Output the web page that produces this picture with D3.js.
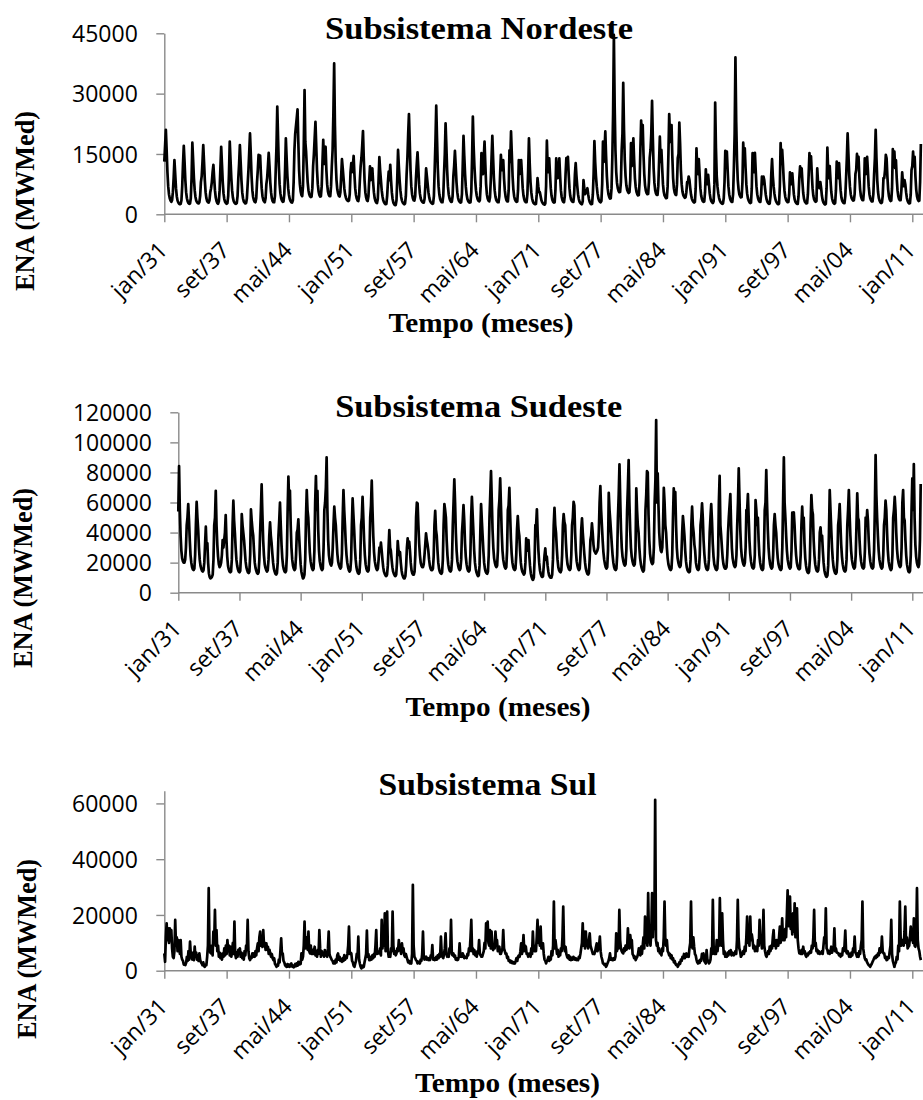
<!DOCTYPE html>
<html>
<head>
<meta charset="utf-8">
<script src="https://cdn.jsdelivr.net/npm/d3@7"></script>
<style>
  body { margin: 0; background: #fff; }
  svg { display: block; }
</style>
</head>
<body>
<svg id="chart" width="923" height="1100"></svg>
<script>
// ENA mensal (mil MWmed), jan/1931 .. dez/2011, uma linha por ano
const startYear = 1931;
const tickStep = 80; // um rótulo a cada 80 meses
const tickLabels = ['jan/31', 'set/37', 'mai/44', 'jan/51', 'set/57', 'mai/64', 'jan/71',
  'set/77', 'mai/84', 'jan/91', 'set/97', 'mai/04', 'jan/11'];

const nordeste = [
  [13.1, 17, 21, 16, 10.5, 7, 5, 4, 3.4, 3.1, 3.5, 5.5],       // 1931
  [9, 13.5, 10, 6.5, 4.5, 3.4, 2.9, 2.6, 2.5, 2.6, 3.5, 7],
  [12.5, 17, 13, 8.5, 5.5, 4, 3.2, 2.8, 2.6, 2.7, 4, 9],
  [17.8, 13.5, 9, 6, 4.3, 3.4, 3, 2.8, 2.7, 3, 4.5, 8],
  [9.5, 13, 17.2, 13, 8.5, 5.5, 4, 3.3, 3, 2.9, 3.5, 5.5],
  [6.5, 8, 10.5, 12.3, 9, 6, 4.2, 3.3, 2.8, 2.6, 3.2, 6],
  [11.5, 16.8, 12.5, 8, 5.2, 3.8, 3.1, 2.8, 2.6, 2.8, 4.5, 10],
  [18.1, 13.5, 9, 6, 4.2, 3.3, 2.9, 2.7, 2.6, 2.8, 4.5, 9],
  [12.5, 17.2, 13, 8.5, 5.5, 4, 3.2, 2.9, 2.7, 2.8, 4, 7.5],
  [11, 15.5, 20.1, 15, 9.5, 6, 4.3, 3.5, 3.1, 3, 4, 8],        // 1940
  [11, 14.8, 12, 14.6, 10, 6.5, 4.5, 3.6, 3.2, 3, 4, 7.5],
  [9, 12, 15.3, 12, 8, 5.5, 4, 3.3, 3, 3, 4.5, 11],
  [17, 26.8, 19, 12, 7.5, 5.2, 4, 3.4, 3.1, 3.2, 5, 11],
  [18.9, 14, 9.5, 6.5, 4.8, 3.8, 3.3, 3, 2.9, 3.5, 8, 16],
  [20, 22, 24, 26.1, 18, 11, 7.5, 5.7, 4.8, 4.5, 7, 17],
  [30.9, 18, 15.5, 11.5, 8, 6, 5, 4.5, 4.3, 4.4, 6.5, 12],
  [15, 19, 23, 17, 11, 7.5, 5.7, 4.8, 4.4, 4.5, 7, 13],
  [18.5, 12.5, 13.5, 16.8, 11, 7.5, 5.7, 4.9, 4.5, 4.5, 7, 12],
  [16, 25, 37.5, 22, 13, 8.5, 6.2, 5.2, 4.6, 4.4, 5.5, 9.5],
  [13.7, 11.5, 9, 6.5, 5, 4.2, 3.7, 3.4, 3.3, 3.4, 5, 10.5],   // 1950
  [12.7, 10.5, 12, 14.5, 10, 6.5, 4.8, 3.9, 3.4, 3.3, 4.5, 8.5],
  [12, 14, 17, 20.7, 14, 8.5, 5.5, 4.2, 3.5, 3.3, 4.5, 8.5],
  [11.9, 8.5, 9.5, 11.4, 8, 5.5, 4, 3.3, 2.9, 2.8, 3.8, 8.5],
  [14.2, 11, 8.5, 6, 4.5, 3.5, 3, 2.7, 2.5, 2.6, 4.5, 8],
  [10.6, 8.5, 12.3, 8.5, 5.5, 3.8, 2.9, 2.5, 2.3, 2.3, 3.5, 9],
  [16, 12, 8.5, 6, 4.3, 3.4, 2.9, 2.7, 2.5, 2.7, 4.5, 10],
  [14, 20, 24.9, 18, 11, 7, 5, 4, 3.5, 3.4, 4.5, 9],
  [12.5, 15.4, 11.5, 7.5, 5.2, 4, 3.4, 3.1, 2.9, 2.9, 3.8, 7],
  [11.4, 9.5, 7.5, 5.5, 4.2, 3.4, 3, 2.8, 2.6, 2.7, 4.5, 11],
  [18, 27, 19, 11.5, 7, 4.9, 3.8, 3.3, 3, 3, 4.5, 10],         // 1960
  [15, 22.6, 17, 11, 7, 5, 4, 3.4, 3.1, 3.1, 4.5, 9.5],
  [12, 15.8, 12, 8, 5.5, 4.1, 3.4, 3.1, 2.9, 3, 5, 12],
  [19.5, 14.5, 10, 6.8, 4.9, 3.8, 3.3, 3, 2.9, 3, 5.5, 14],
  [24.3, 17, 12, 8.5, 6, 4.6, 3.8, 3.4, 3.2, 3.5, 7, 15.2],
  [11, 10, 14, 18.1, 12.5, 7.5, 5, 3.9, 3.4, 3.2, 4.2, 8.5],
  [14, 19.5, 14, 9, 6, 4.4, 3.6, 3.2, 3, 3, 4.5, 10],
  [14.8, 11, 12, 13.5, 9, 6, 4.4, 3.6, 3.2, 3.2, 6, 15.9],
  [13, 20.6, 15, 9.5, 6.2, 4.5, 3.7, 3.3, 3.1, 3.2, 6, 13.5],
  [10, 10.5, 13.5, 10, 6.5, 4.6, 3.7, 3.2, 3, 3, 5, 11],
  [18.9, 12.5, 8, 5.5, 4, 3.2, 2.8, 2.6, 2.5, 2.6, 5, 9],      // 1970
  [7, 5.5, 5.5, 4.5, 3.5, 3, 2.7, 2.5, 2.4, 2.7, 7, 18.3],
  [12, 10.5, 13.9, 10, 6.5, 4.6, 3.6, 3.1, 2.9, 3, 6, 13.9],
  [10, 9, 11, 13.9, 9.5, 6, 4.3, 3.5, 3.1, 3, 4.5, 10],
  [14, 12, 14.3, 10, 6.5, 4.6, 3.7, 3.3, 3.1, 3.1, 5, 10],
  [12.7, 9.5, 7, 5, 3.8, 3.1, 2.8, 2.6, 2.5, 3.2, 8.5, 6.5],
  [5, 5.5, 6, 6.5, 5, 3.8, 3.1, 2.7, 2.5, 2.6, 5, 10],
  [18.2, 13, 9.5, 7, 5.2, 4, 3.4, 3.1, 3, 3.3, 7.5, 18.1],
  [13, 16, 20.6, 14.5, 9.5, 6.5, 5, 4.3, 3.9, 4, 6.5, 14],
  [25, 44.6, 27, 16, 10.5, 7.8, 6.5, 5.8, 5.5, 5.6, 8, 16],
  [20, 32.7, 21, 13.5, 9.5, 7.2, 6.1, 5.6, 5.3, 5.5, 8.5, 17.7], // 1980
  [12, 15, 18.9, 13.5, 9, 6.8, 5.6, 5, 4.7, 4.8, 8, 16],
  [23.3, 17.5, 22.2, 15, 10, 7.2, 5.9, 5.3, 5, 5.1, 8, 14],
  [16, 20, 28.2, 19, 11.5, 7.8, 6, 5.2, 4.8, 4.8, 7, 13],
  [19.3, 13, 16, 11.5, 7.5, 5.6, 4.7, 4.3, 4, 4.1, 7, 15],
  [24.9, 19.5, 18, 22.2, 14.5, 9, 6.5, 5.4, 4.9, 4.8, 7.5, 14],
  [15, 22.8, 17.5, 11, 7.5, 5.7, 4.8, 4.4, 4.1, 4.2, 5.5, 8],
  [8, 9.4, 8.5, 6.5, 4.9, 3.9, 3.4, 3.1, 2.9, 3.1, 6.5, 16.4],
  [11, 10, 13.7, 10, 6.5, 4.7, 3.8, 3.3, 3.1, 3.2, 5.5, 11.2],
  [8, 7.5, 9.8, 7.5, 5.2, 3.9, 3.3, 3, 2.8, 3.2, 7.5, 27.8],
  [16.5, 9.5, 6.8, 5.2, 4.1, 3.4, 3, 2.8, 2.6, 2.7, 4, 8],     // 1990
  [15.8, 12, 15.6, 11, 7, 5, 4, 3.4, 3.1, 3.1, 5, 11.5],
  [20, 39, 23, 13.5, 8.5, 6.2, 5, 4.5, 4.2, 4.3, 8, 17.8],
  [13, 16.4, 11.5, 7.5, 5.2, 4, 3.4, 3, 2.8, 2.9, 6.5, 15.2],
  [11, 10.5, 15.3, 11, 7, 5, 4, 3.4, 3.1, 3.1, 5, 9.4],
  [7.5, 9.4, 8.5, 6.5, 4.8, 3.7, 3.1, 2.8, 2.6, 2.7, 4.5, 10],
  [13.7, 9.5, 7, 5.2, 4, 3.3, 2.9, 2.6, 2.5, 2.7, 7, 17.7],
  [12.5, 16, 12.5, 8.5, 5.8, 4.3, 3.6, 3.2, 3, 3.1, 5, 10.4],
  [8, 7.5, 10.2, 7.5, 5, 3.7, 3.1, 2.8, 2.6, 2.6, 4.5, 9],
  [11.9, 9.5, 11.4, 8, 5.3, 3.9, 3.2, 2.9, 2.7, 2.8, 5, 10],
  [15.2, 12, 14.4, 10, 6.5, 4.6, 3.7, 3.3, 3.1, 3.3, 11.4, 8], // 2000
  [7, 6.5, 8, 6.5, 4.6, 3.5, 2.9, 2.6, 2.4, 2.6, 6.5, 16.6],
  [11, 9, 12, 8.5, 5.6, 4, 3.2, 2.8, 2.6, 2.8, 6, 13.1],
  [10, 9, 12.7, 9, 6, 4.2, 3.4, 3, 2.8, 2.8, 4.5, 9],
  [14, 20.1, 15, 10, 6.8, 5, 4.1, 3.7, 3.4, 3.5, 5, 10],
  [11, 15, 12, 14.3, 9.5, 6.2, 4.6, 3.9, 3.5, 3.5, 6, 13.9],
  [10, 12, 14.3, 11, 7, 5, 4, 3.5, 3.2, 3.2, 5, 10],
  [14, 21, 14, 8.5, 5.6, 4.1, 3.4, 3, 2.8, 2.9, 4.5, 9],
  [9, 11, 14.8, 13.9, 9.5, 6.2, 4.5, 3.7, 3.3, 3.4, 6.5, 16.2],
  [12, 15.6, 11.5, 13.5, 9, 6, 4.5, 3.8, 3.5, 3.5, 6, 10.4],
  [8, 7, 8.5, 7.5, 5.5, 4.1, 3.3, 2.9, 2.7, 2.8, 5, 11],       // 2010
  [12, 15.6, 12, 14.3, 9.5, 6.2, 4.5, 3.7, 3.3, 3.4, 8, 17.5]
];

const sudeste = [
  [54, 84.2, 55, 38, 28, 23, 21, 20, 20, 22, 30, 45],          // 1931
  [50, 59, 48, 35, 25, 20, 17, 15.5, 15, 16, 25, 45],
  [60.5, 50, 42, 30, 22, 18, 16, 14.5, 14, 15, 20, 32],
  [43.9, 30, 33, 20, 13, 10.5, 9.5, 10, 10.5, 12, 22, 45],
  [50, 67.8, 45, 32, 24, 19, 17, 18, 20, 25, 35, 30],
  [35, 40, 51.7, 35, 24, 18, 15.5, 14, 13.5, 14, 22, 45],
  [61.2, 48, 40, 30, 22, 18, 15.5, 14, 13.5, 14.5, 25, 52.3],
  [45, 40, 35, 28, 21, 17, 15, 13.5, 13, 14, 25, 55.4],
  [48, 42, 38, 28, 20, 16.5, 14.5, 13, 12.5, 13.5, 22, 40],
  [55, 72, 52, 35, 25, 19, 16.5, 15, 14, 15, 22, 38],          // 1940
  [46.8, 38, 33, 26, 20, 16, 14, 12.5, 12, 13, 20, 38],
  [48, 59.9, 45, 32, 23, 18, 15.5, 14, 13.5, 14.5, 25, 55],
  [77.2, 60, 68, 45, 30, 22, 18, 16, 15, 16, 25, 40],
  [42, 48.8, 38, 28, 19, 14, 11.5, 9.5, 10, 12, 22, 50],
  [68.3, 55, 50, 38, 27, 21, 18, 16, 15, 16, 28, 60],
  [77.6, 55, 67.8, 42, 28, 21, 18, 16, 15, 16, 30, 55],
  [60, 70, 90, 55, 35, 25, 21, 19, 18, 20, 30, 45],
  [57.2, 50, 45, 35, 26, 21, 18.5, 17, 16, 17, 26, 50],
  [68.3, 55, 45, 33, 25, 20, 17, 15, 14, 15, 22, 45],
  [62.7, 52, 42, 30, 22, 17, 14.5, 13, 12.5, 13.5, 22, 45],    // 1950
  [50, 63.8, 50, 35, 25, 19, 16, 14.5, 14, 15, 25, 50],
  [58, 74.5, 55, 38, 27, 21, 18, 16, 15, 16, 22, 30],
  [28, 33.3, 28, 22, 17, 14, 12.5, 11.5, 11, 12, 18, 30],
  [41.7, 30, 28, 22, 17, 14, 12.5, 11.5, 11, 12, 20, 34.4],
  [28, 25, 27, 20, 15, 12, 10.5, 9.5, 9.5, 11, 18, 30],
  [36.1, 30, 34, 28, 20, 15, 13, 12, 12, 14, 25, 50],
  [59.9, 59.4, 45, 33, 25, 20, 18, 17, 17, 19, 25, 32],
  [39.5, 35, 32, 28, 22, 18, 16, 15, 15, 16, 24, 45],
  [54.5, 42, 38, 28, 20, 16, 14, 13, 12.5, 13.5, 22, 45],
  [59, 55, 50, 35, 25, 19, 16, 14.5, 14, 15, 22, 45],          // 1960
  [60, 75.4, 60, 40, 28, 21, 18, 16, 15, 16, 22, 40],
  [48, 58.3, 48, 33, 24, 19, 16, 14.5, 14, 15, 25, 50],
  [63.8, 52, 40, 28, 20, 16, 13.5, 12, 11, 11.5, 18, 40],
  [59, 48, 38, 28, 20, 16, 14, 13, 12.5, 14, 25, 50],
  [65, 80.9, 62, 42, 30, 23, 20, 18, 17, 18, 28, 55],
  [62, 76, 58, 40, 28, 22, 19, 17, 16, 17, 28, 55],
  [58, 69.8, 52, 36, 26, 20, 17, 15.5, 15, 16, 25, 42],
  [51, 42, 38, 28, 20, 16, 14, 13, 12, 13, 20, 36.1],
  [30, 28, 35, 25, 18, 13, 10.5, 9, 8.5, 10, 22, 45],
  [45, 55.4, 40, 28, 20, 15, 12.5, 11, 10.5, 11, 18, 25],      // 1970
  [29.5, 22, 24, 18, 14, 11.5, 10.5, 10, 10, 12, 22, 45],
  [56.5, 45, 40, 30, 22, 17, 15, 14, 13.5, 15, 25, 45],
  [52.3, 47, 45, 33, 24, 19, 17, 15.5, 15, 16, 25, 45],
  [50, 60.5, 58, 40, 28, 21, 18, 16, 15, 16, 25, 42],
  [49.4, 40, 33, 26, 20, 16, 14, 12.5, 12, 13, 22, 35],
  [38, 46.1, 40, 32, 28, 27, 26, 27, 28, 30, 40, 60],
  [70.9, 55, 45, 35, 27, 22, 19, 17, 16, 17, 28, 66.5],
  [55, 48, 40, 32, 25, 20, 17, 15.5, 15, 16, 25, 50],
  [65, 85.4, 62, 42, 30, 24, 21, 19, 18, 19, 28, 55],
  [70, 88.2, 60, 42, 30, 24, 21, 19, 18, 19, 28, 69.4],        // 1980
  [55, 45, 40, 30, 23, 19, 16.5, 15, 14, 15, 25, 55],
  [65, 80.9, 80, 52, 35, 26, 22, 20, 19, 20, 30, 60],
  [75, 114.8, 60, 79.4, 58, 40, 32, 28, 27, 30, 45, 69.8],
  [60, 45, 40, 30, 23, 19, 17, 15.5, 15, 16, 25, 50],
  [69.4, 60, 67, 45, 30, 23, 20, 18, 17, 18, 25, 40],
  [51, 45, 38, 28, 21, 17, 15, 14, 13.5, 14, 22, 45],
  [57.2, 45, 40, 32, 28, 20, 17, 15.5, 15, 16, 25, 45],
  [50, 59.4, 50, 35, 26, 20, 17, 15.5, 15, 16, 22, 40],
  [50, 59, 48, 33, 24, 19, 17, 15.5, 15, 16, 25, 60],
  [77.8, 45, 38, 30, 23, 19, 17, 16, 16, 17, 25, 40],          // 1990
  [50, 58, 65.6, 45, 30, 23, 20, 18, 17, 18, 25, 45],
  [60, 82.7, 62, 42, 30, 24, 21, 19, 18, 20, 30, 55],
  [55, 65.6, 50, 35, 26, 21, 18, 16.5, 16, 17, 25, 61.6],
  [55, 45, 50, 35, 25, 20, 17, 15.5, 15, 16, 28, 55],
  [60, 81.6, 60, 42, 30, 23, 19, 17, 16, 17, 25, 45],
  [52.3, 45, 40, 30, 23, 19, 17, 15.5, 15, 16, 30, 60],
  [90, 60, 50, 38, 28, 22, 19, 17, 16, 17, 28, 53.2],
  [50, 53.5, 45, 33, 25, 20, 17.5, 16, 15.5, 16, 25, 45],
  [57.2, 45, 50, 33, 23, 18, 15, 13.5, 13, 14, 22, 45],
  [65, 55, 52, 35, 25, 19, 16, 14.5, 14, 15, 22, 40],          // 2000
  [43.5, 35, 38, 28, 20, 15, 12.5, 11, 10.5, 11.5, 18, 40],
  [68.3, 55, 42, 30, 22, 17, 14.5, 13, 12.5, 13.5, 22, 45],
  [50, 59, 45, 32, 24, 19, 16, 14.5, 14, 15, 22, 45],
  [55, 68.3, 52, 38, 28, 22, 19, 17, 16, 17, 25, 45],
  [66.1, 50, 48, 35, 26, 21, 18, 16.5, 16, 17, 28, 50],
  [45, 55, 48, 35, 26, 21, 18, 16.5, 16, 17, 28, 55],
  [91.6, 65, 50, 38, 28, 22, 19, 17, 16, 17, 25, 45],
  [50, 61.2, 55, 40, 28, 21, 18, 16, 15, 16, 25, 50],
  [55, 63.8, 55, 40, 29, 23, 20, 18, 17, 18, 30, 60],
  [68.3, 50, 48, 35, 25, 19, 16, 14, 13.5, 14.5, 25, 55],      // 2010
  [76, 55, 85.6, 50, 32, 24, 20, 18, 17, 19, 35, 72.3]
];

const sul = [
  [6.2, 3.2, 12, 17, 11, 15.2, 10, 15.2, 12, 14.6, 8, 5],      // 1931
  [4.5, 7, 18.2, 9, 12, 7, 11, 10, 6, 11, 5, 4],
  [3.5, 2.2, 2.5, 2, 2.8, 5, 3.5, 7, 4, 10.4, 6, 5],
  [4, 6.5, 3.8, 8.6, 5, 6.5, 4, 5.5, 3.5, 6.2, 4, 3],
  [2.6, 2, 3, 1.6, 1.4, 2.2, 2, 5, 9, 29.6, 8, 6.5],
  [6.2, 9, 5.5, 14, 10, 21.8, 9, 14.6, 7, 9, 5, 6.5],
  [4.5, 6, 4, 6.2, 5, 8, 5.5, 9, 6, 11, 7, 9],
  [5.5, 8.6, 5, 7, 10, 6, 17.6, 6, 4.5, 6.5, 5, 7.5],
  [6, 8, 5, 6.5, 4.5, 6, 4, 7, 5.5, 9, 8, 18.2],
  [7, 4.5, 3.8, 5, 4.5, 6.2, 5, 6.2, 5, 7, 5.5, 8],            // 1940
  [9.8, 7, 12, 14, 9, 11, 8.5, 14.6, 9, 10, 7.5, 9.8],
  [7.5, 8.6, 6, 7.5, 6.2, 5, 6, 4.5, 3.8, 4.5, 2.5, 2],
  [1.4, 2.2, 1.8, 4, 3, 7, 11.6, 6, 6.2, 3.5, 3, 2],
  [1.6, 1.4, 2.4, 1.5, 2.2, 1.4, 1.8, 2.6, 1.5, 1.9, 1.2, 1.8],
  [2.4, 1.6, 2.6, 1.8, 3.2, 2.2, 2.8, 2.4, 6.2, 4, 5, 9],
  [17.6, 8, 8.6, 12, 7.5, 14, 7, 6.2, 9, 6, 7.5, 6],
  [7, 8.6, 5.5, 6.5, 5, 7.5, 6, 14.6, 8, 5, 7, 6],
  [6.5, 5, 7.4, 5.5, 6, 5, 8, 14, 6, 5, 4.5, 3.8],
  [3.5, 2.6, 3.2, 2.6, 4, 3, 5.5, 6.2, 4, 5, 3.5, 3.8],
  [3.2, 4.5, 3.5, 5.6, 4, 5, 4.5, 6, 9, 15.8, 6, 6.5],         // 1950
  [6.2, 3.5, 3, 1.8, 1.4, 2.5, 3.5, 6, 5, 12.2, 4, 2.5],
  [1.4, 0.8, 1.8, 1.2, 1.4, 3, 4.5, 6, 14.4, 5, 6, 3.8],
  [3.8, 5, 4, 5.5, 4.5, 6, 5, 9, 14.6, 6, 7, 6.2],
  [6.2, 8, 5.5, 18.2, 8, 12, 9, 20.6, 7, 14, 21.2, 7],
  [5, 6, 5, 8, 7, 21.2, 9, 6, 7, 5.5, 6.2, 8],
  [7, 11, 8, 7.5, 6, 9.8, 7, 8, 5.5, 5, 6, 5],
  [4, 3, 3.5, 2.6, 3, 2.6, 6, 30.8, 9, 5, 4.5, 3.8],
  [3.5, 2.6, 3.2, 3, 2.6, 4, 3.5, 6, 14, 5, 4, 4.5],
  [5, 4, 4.5, 3.8, 4.5, 3.8, 5.5, 5, 9.2, 4, 4.5, 3.8],
  [4, 5, 4, 5.5, 4.5, 6, 5, 12.2, 6, 5, 4.5, 6],               // 1960
  [8, 13.4, 6, 5, 6, 5, 8, 7, 18.2, 6, 5.5, 6.2],
  [5, 5.5, 4, 4.5, 3.8, 4, 5, 9.8, 5, 6, 5, 6.2],
  [5.5, 4.5, 5, 5, 4.5, 6, 5.5, 8, 7, 12, 18.2, 7],
  [8, 6, 7.4, 5.5, 6.5, 5, 7, 6.5, 11, 6, 5.5, 5],
  [5, 6, 7, 10, 8, 17, 11, 17.6, 10, 9, 14.6, 8],
  [14, 9, 7.4, 9, 8, 14, 10, 11, 7, 8, 8.6, 6],
  [6, 7, 8, 14.6, 8, 7, 6, 6.2, 4.5, 5, 3.5, 3.8],
  [3, 3.5, 2.8, 3.2, 2.6, 3, 2.6, 3.5, 4.5, 3.5, 5, 5.5],
  [5, 7, 9.8, 6, 8, 12.8, 7, 9, 8.6, 6, 6.2, 5],
  [6, 6.2, 5, 8, 6, 14, 8, 7, 9, 7, 12, 18.2],                 // 1970
  [10, 12, 9, 15.8, 8, 9, 9.8, 6, 4, 3.5, 2.6, 3.5],
  [4, 5, 3.5, 5, 4, 7, 5.5, 9, 24.8, 8, 11, 8.6],
  [6, 7.5, 5, 6.2, 5.5, 8, 7, 12, 23, 9, 7, 8.6],
  [6, 5, 4.5, 5.5, 4, 5, 3.8, 4.5, 4, 5, 4.5, 4],
  [4.5, 3.8, 4, 3.8, 5, 4.5, 6, 8, 10, 17, 9, 14],
  [8, 14, 9, 10, 8, 11, 13.4, 9, 8, 7, 6, 6.2],
  [6, 7, 8.5, 9.8, 7, 8, 9, 12.2, 7, 5, 4, 2.6],
  [2.5, 2, 2.4, 1.4, 2, 2.8, 3.5, 4.5, 6.2, 4, 4.5, 3.8],
  [3.8, 4.5, 4, 5, 13.4, 7, 9, 8, 21.8, 11, 8, 7],
  [6.5, 6.2, 8, 7, 9, 7.5, 8, 15.2, 9, 8, 12.8, 10],           // 1980
  [11, 6, 5.5, 4.5, 5, 3.8, 4.5, 5, 6, 8, 6, 5.5],
  [8.6, 6, 9, 12, 8, 19.4, 10, 14, 9, 27.8, 12, 11],
  [9, 14, 27.8, 12, 20, 15, 61.3, 11, 9, 10, 7, 8],
  [6.2, 7, 5.5, 8, 7, 12, 24.8, 11, 9, 11, 7, 6.5],
  [5.5, 6, 4.5, 5.5, 4, 4.5, 3, 3.5, 2.5, 2, 2.2, 1.4],
  [2, 3, 2.5, 4, 3.5, 5, 4.5, 6, 4.5, 5.5, 6.2, 5],
  [6, 5, 8, 10, 24.8, 9, 8, 12, 8.6, 6, 5.5, 4],
  [3, 2.6, 3.5, 2.8, 4, 3.5, 6, 4.5, 6.2, 3.5, 3, 2.6],
  [7.4, 4, 3.5, 2.6, 3, 4, 8, 6, 25.4, 9, 6, 7],
  [6, 11, 7, 10, 9, 26, 12, 9, 20.6, 11, 6, 7],                // 1990
  [5, 6, 5, 6.5, 5.5, 7, 6, 7.4, 5.5, 6.5, 6.2, 5.5],
  [6.2, 7, 6, 11, 25.4, 12, 8, 7, 5, 5.5, 6, 7],
  [6, 8.6, 7, 12, 19.4, 10, 14, 9, 19.4, 11, 13, 11],
  [8, 9, 7, 8.5, 8.6, 7, 11, 9, 18.2, 10, 12, 8],
  [12, 21.8, 9, 7, 5.5, 5, 6, 7, 6, 8.6, 7, 9],
  [8, 12, 14.6, 9, 11, 8, 11, 10, 9, 12, 15.8, 10],
  [12, 18.8, 11, 14, 11, 15, 12, 20, 28.8, 16, 22, 26.6],
  [15, 18, 13, 20.6, 14, 24.2, 12, 15, 22.4, 11, 8, 6.2],
  [7, 6, 7.5, 6, 8.6, 6.5, 7, 5.5, 5, 6, 5.5, 6.5],
  [6.2, 7, 6.5, 9, 8, 12, 21.8, 9, 10, 7, 7.5, 6.2],           // 2000
  [7, 6, 6.5, 6.2, 7, 6, 9, 12, 10, 22.4, 8, 7.5],
  [6.2, 7, 6, 7, 8.6, 6.5, 7.5, 8, 15.2, 7, 8, 6.5],
  [6.5, 6.2, 5.5, 6, 5, 6, 5.5, 8, 7, 9, 14.4, 7],
  [6.2, 7, 6.2, 5, 6, 5, 6.5, 5.5, 8, 7, 12.2, 6.5],
  [6, 5, 6.2, 5, 7, 6, 9, 11, 24.8, 8, 6, 4.5],
  [3.8, 4, 3, 2.5, 2, 1.8, 1.4, 2, 2.5, 3.2, 3.8, 4.5],
  [5, 4.5, 5.5, 5, 6.2, 5.5, 8, 6.5, 7, 12.2, 7, 6.2],
  [6.2, 4.5, 5, 3.8, 4, 5, 4.5, 7, 9, 18.2, 6, 3.5],
  [2.5, 1.4, 2.5, 3, 5, 4, 9, 7, 24.8, 12, 9, 11],
  [11, 9, 14, 23, 10, 12, 8, 8.6, 9, 12, 15.8, 11],            // 2010
  [14, 10, 18.8, 9, 8.6, 12, 29.6, 11, 8, 7, 5, 3.8]
];

// layout de cada painel (px da figura original)
const panels = [
  { title: 'Subsistema Nordeste', rows: nordeste, yMax: 45000, yTicks: [0, 15000, 30000, 45000],
    left: 164.3, x960: 912.3, base: 214.3, top: 33.3,
    titleCx: 479, titleW: 308, titleY: 38.5, xtCx: 481, xtY: 331.5, ytCy: 201, ytX: 34 },
  { title: 'Subsistema Sudeste', rows: sudeste, yMax: 120000, yTicks: d3.range(0, 120001, 20000),
    left: 178.3, x960: 912.3, base: 592.7, top: 412.3,
    titleCx: 478.7, titleW: 287, titleY: 416.5, xtCx: 498, xtY: 716, ytCy: 578, ytX: 32 },
  { title: 'Subsistema Sul', rows: sul, yMax: 64560, yTicks: [0, 20000, 40000, 60000],
    left: 164.3, x960: 912.3, base: 970.7, top: 790.7,
    titleCx: 487.5, titleW: 218, titleY: 795, xtCx: 507.5, xtY: 1092, ytCy: 949, ytX: 36 }
];

const W = 923;
const axisColor = '#8a8a8a';
const sansFont = '"Open Sans", Lato, "Liberation Sans", sans-serif';
const serifFont = '"Liberation Serif", "DejaVu Serif", serif';

const svg = d3.select('#chart');

panels.forEach(function(p) {
  const values = p.rows.flat().map(v => v * 1000);

  const x = d3.scaleLinear().domain([0, 960]).range([p.left, p.x960]);
  const y = d3.scaleLinear().domain([0, p.yMax]).range([p.base, p.top]);

  const g = svg.append('g');

  // título
  g.append('text')
    .attr('x', p.titleCx).attr('y', p.titleY)
    .attr('text-anchor', 'middle')
    .attr('textLength', p.titleW).attr('lengthAdjust', 'spacingAndGlyphs')
    .style('font-family', serifFont).style('font-weight', 'bold').style('font-size', '31px')
    .text(p.title);

  // eixo Y
  const yAxis = g.append('g')
    .attr('transform', `translate(${p.left},0)`)
    .call(d3.axisLeft(y).tickValues(p.yTicks).tickSize(8).tickSizeOuter(0).tickPadding(18.5)
      .tickFormat(d3.format('d')));
  yAxis.attr('font-family', sansFont).attr('font-size', 23);
  yAxis.selectAll('text').attr('fill', '#000').attr('dy', '0.36em');
  yAxis.selectAll('line, path').attr('stroke', axisColor).attr('stroke-width', 1.4);

  // eixo X (categorias mensais, rótulo a cada 80 meses)
  const xAxis = g.append('g')
    .attr('transform', `translate(0,${p.base})`)
    .call(d3.axisBottom(x).tickValues(d3.range(0, 961, tickStep)).tickSize(8).tickSizeOuter(0)
      .tickFormat((d, i) => tickLabels[i]));
  xAxis.select('.domain').remove();
  xAxis.insert('line', ':first-child')
    .attr('x1', p.left).attr('x2', W).attr('y1', 0).attr('y2', 0);
  xAxis.attr('font-family', sansFont).attr('font-size', 23);
  xAxis.selectAll('line').attr('stroke', axisColor).attr('stroke-width', 1.4);
  xAxis.selectAll('text')
    .attr('fill', '#000')
    .attr('text-anchor', 'end')
    .attr('y', 0).attr('dy', 0)
    .attr('transform', 'translate(4,37.5) rotate(-45)');

  // série
  const line = d3.line().x((d, i) => x(i)).y(d => y(d));
  g.append('path')
    .datum(values)
    .attr('d', line)
    .attr('fill', 'none')
    .attr('stroke', '#000')
    .attr('stroke-width', 2.7)
    .attr('stroke-linejoin', 'round');

  // títulos dos eixos
  g.append('text')
    .attr('x', p.xtCx).attr('y', p.xtY)
    .attr('text-anchor', 'middle')
    .attr('textLength', 185).attr('lengthAdjust', 'spacingAndGlyphs')
    .style('font-family', serifFont).style('font-weight', 'bold').style('font-size', '27px')
    .text('Tempo (meses)');

  g.append('text')
    .attr('transform', `translate(${p.ytX},${p.ytCy}) rotate(-90)`)
    .attr('text-anchor', 'middle')
    .attr('textLength', 180).attr('lengthAdjust', 'spacingAndGlyphs')
    .style('font-family', serifFont).style('font-weight', 'bold').style('font-size', '27px')
    .text('ENA (MWMed)');
});
</script>
</body>
</html>
